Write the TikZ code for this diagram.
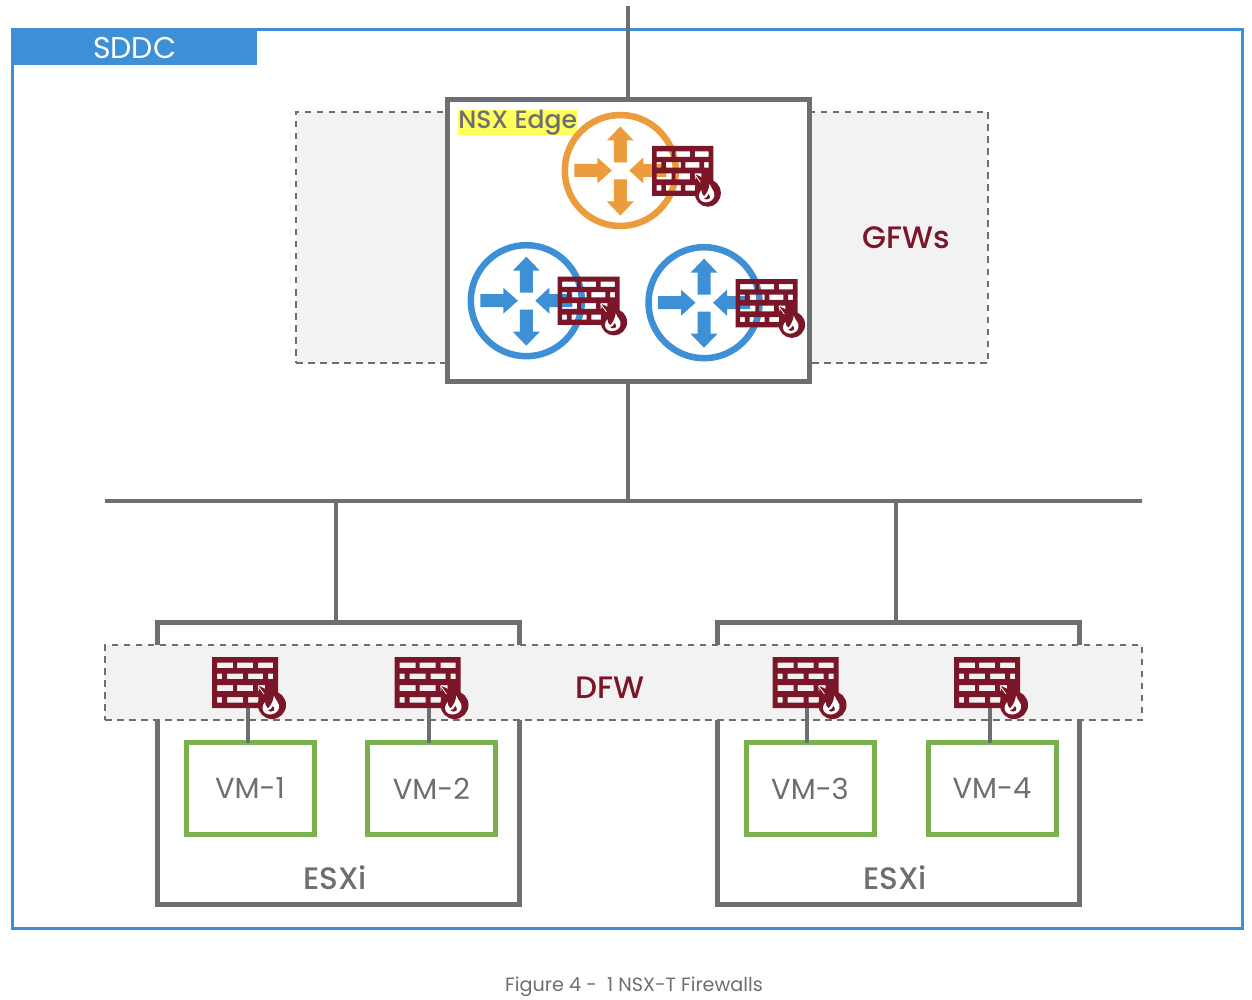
\documentclass[tikz,border=0pt]{standalone}
\usepackage{fontspec}
\setmainfont{Poppins}
\newfontfamily\medfont{Poppins Medium}
\usepackage{xcolor}
\usetikzlibrary{shapes,arrows}
\definecolor{wire}{HTML}{6D6E71}
\definecolor{sddcblue}{HTML}{3D8FD6}
\definecolor{edgeorange}{HTML}{EC9C3C}
\definecolor{fwred}{HTML}{7B1528}
\definecolor{vmgreen}{HTML}{7AB04F}
\definecolor{bandgray}{HTML}{F2F2F2}
\definecolor{marker}{HTML}{FFFF5C}
\newcommand{\vmtext}[1]{\raisebox{-1.5pt}{#1}}
\tikzstyle{line} = [draw=wire, line width=4.5pt]
\tikzstyle{band} = [rectangle, draw=wire, dash pattern=on 6.5pt off 5.5pt, line width=2pt, fill=bandgray, inner sep=0pt, outer sep=0pt, anchor=north west]
\tikzstyle{hostbox} = [rectangle, draw=wire, fill=white, line width=5pt, inner sep=0pt, outer sep=0pt, anchor=north west]
\tikzstyle{vmbox} = [rectangle, draw=vmgreen, line width=5pt, minimum width=128pt, minimum height=92pt, inner sep=0pt, outer sep=0pt, text=wire, font=\fontsize{29}{30}\selectfont]
\tikzstyle{redlabel} = [text=fwred, font=\medfont\fontsize{31}{32}\selectfont]
\tikzstyle{greylabel} = [text=wire, font=\medfont\fontsize{31}{32}\selectfont]
\tikzset{
  routerpic/.pic={
    \draw [line width=6.5pt, draw=#1] (0,0) circle (55.5);
    \fill [#1] (-6.5,-8) -- (-6.5,-30) -- (-13.5,-30) -- (0,-44) -- (13.5,-30) -- (6.5,-30) -- (6.5,-8) -- cycle;
    \fill [#1] (-6.5,9) -- (-6.5,31) -- (-13.5,31) -- (0,45) -- (13.5,31) -- (6.5,31) -- (6.5,9) -- cycle;
    \fill [#1] (-46,-6.5) -- (-23,-6.5) -- (-23,-13) -- (-8.5,0) -- (-23,13) -- (-23,6.5) -- (-46,6.5) -- cycle;
    \fill [#1] (46,-6.5) -- (23,-6.5) -- (23,-13) -- (9,0) -- (23,13) -- (23,6.5) -- (46,6.5) -- cycle;
  },
  firewallpic/.pic={
    \coordinate (-stem) at (36,51);
    \fill [fwred, even odd rule] (0,0) rectangle (66,51)
      \foreach \xa/\ya/\xb/\yb in {5/5.5/21/11, 25/5.5/41/11, 46/5.5/61/11,
        5/16.5/10/22, 15/16.5/31/22, 36/16.5/51/22, 56/16.5/61/22,
        5/28/21/34, 25/28/41/34, 46/28/53/34,
        5/40/10/45.5, 15/40/31/45.5, 36/40/48/45.5} { (\xa,\ya) rectangle (\xb,\yb) };
    \fill [fwred] (47,29) -- (58,34) -- (70,40) -- (60,48) -- (46,49) -- cycle;
    \fill [fwred] (60,48) circle (14);
    \draw [white, line width=0.8pt] (46,29) -- (52,37);
    \fill [white] (62,38.5) .. controls (63,43) and (68,46) .. (67,51) .. controls (66,55) and (62,57.5) .. (58,57.5)
      .. controls (54,57.5) and (50.5,55) .. (50.5,51) .. controls (50.5,49) and (51.5,47) .. (53,45)
      .. controls (53.5,48) and (54,50) .. (56,51.5) .. controls (59.5,48) and (61.5,43) .. (62,38.5) -- cycle;
    \fill [fwred] (61,49) .. controls (62,51) and (63,52) .. (62,53.5) .. controls (60.5,55) and (57.5,55) .. (56,53.5)
      .. controls (58,53) and (60,51.5) .. (61,49) -- cycle;
  }
}
\begin{document}
\begin{tikzpicture}[x=1pt, y=-1pt]
    \useasboundingbox (0,0) rectangle (1252,1000);

    % outer frame
    \node [rectangle, draw=sddcblue, line width=3pt, minimum width=1230pt, minimum height=898pt, inner sep=0pt, outer sep=0pt, anchor=north west] (sddc) at (12,30) {};
    \node [rectangle, fill=sddcblue, text=white, minimum width=245pt, minimum height=35pt, inner sep=0pt, anchor=north west, font=\fontsize{30}{32}\selectfont] (title) at (12,30) {SDDC};

    % gateway firewall band and edge
    \node [band, minimum width=692pt, minimum height=251pt] (gfwband) at (296,112) {};
    \node [hostbox, minimum width=362pt, minimum height=282pt] (edge) at (447.5,99.5) {};
    \node [fill=marker, text=wire, inner sep=0pt, minimum width=119pt, minimum height=25pt, anchor=north west, font=\medfont\fontsize{25}{26}\selectfont] (edgelabel) at (458,110) {NSX Edge};
    \node [redlabel] (gfwlabel) at (906,238) {GFWs};

    \pic (tier0) at (620.3,170.5) {routerpic=edgeorange};
    \pic (tiera) at (526.3,300.7) {routerpic=sddcblue};
    \pic (tierb) at (704,302.7) {routerpic=sddcblue};
    \pic [xscale=0.93, yscale=0.98] (fwt) at (652,146) {firewallpic};
    \pic [xscale=0.94, yscale=0.95] (fwu) at (557.5,276.5) {firewallpic};
    \pic [xscale=0.94, yscale=0.95] (fwv) at (735.5,279) {firewallpic};

    % bus and uplinks
    \coordinate (uplink) at (628,6);
    \coordinate (busl) at (105,501);
    \coordinate (busr) at (1142,501);
    \coordinate (drop) at (336,501);
    \coordinate (dropb) at (896,501);

    % hosts
    \node [hostbox, minimum width=362pt, minimum height=282pt] (esxia) at (157,622) {};
    \node [hostbox, minimum width=362pt, minimum height=282pt] (esxib) at (717.5,622) {};
    \node [greylabel] (esxialabel) at (335,877.5) {ESXi};
    \node [greylabel] (esxiblabel) at (895,877.5) {ESXi};

    \path [line] (uplink) -- (edge.north -| uplink);
    \path [line] ([xshift=-0.5pt]edge.south) -- ([xshift=-0.5pt]edge.south |- busl);
    \path [line] (busl) -- (busr);
    \path [line] (drop) -- (drop |- esxia.north);
    \path [line] (dropb) -- (dropb |- esxib.north);

    % distributed firewall band
    \node [band, minimum width=1037pt, minimum height=75pt] (dfwband) at (105,645) {};
    \node [redlabel] (dfwlabel) at (610,688) {DFW};

    % vms
    \node [vmbox] (vma) at (250,788.5) {\vmtext{VM-1}};
    \node [vmbox] (vmb) at (431.5,788.5) {\vmtext{VM-2}};
    \node [vmbox] (vmc) at (810,788.5) {\vmtext{VM-3}};
    \node [vmbox] (vmd) at (992,788.5) {\vmtext{VM-4}};

    \pic (fwa) at (212,657) {firewallpic};
    \pic (fwb) at (394.5,657) {firewallpic};
    \pic (fwc) at (772.5,657) {firewallpic};
    \pic (fwd) at (954,657) {firewallpic};

    \path [line] (fwa-stem) -- (fwa-stem |- vma.north);
    \path [line] ([xshift=-1.5pt]fwb-stem) -- ([xshift=-1.5pt]fwb-stem |- vmb.north);
    \path [line] ([xshift=-1.5pt]fwc-stem) -- ([xshift=-1.5pt]fwc-stem |- vmc.north);
    \path [line] (fwd-stem) -- (fwd-stem |- vmd.north);

    \node [text=wire, font=\fontsize{19.2}{21}\selectfont] (caption) at (634,987) {Figure 4 -\ \ 1 NSX-T Firewalls};
  \end{tikzpicture}
\end{document}
